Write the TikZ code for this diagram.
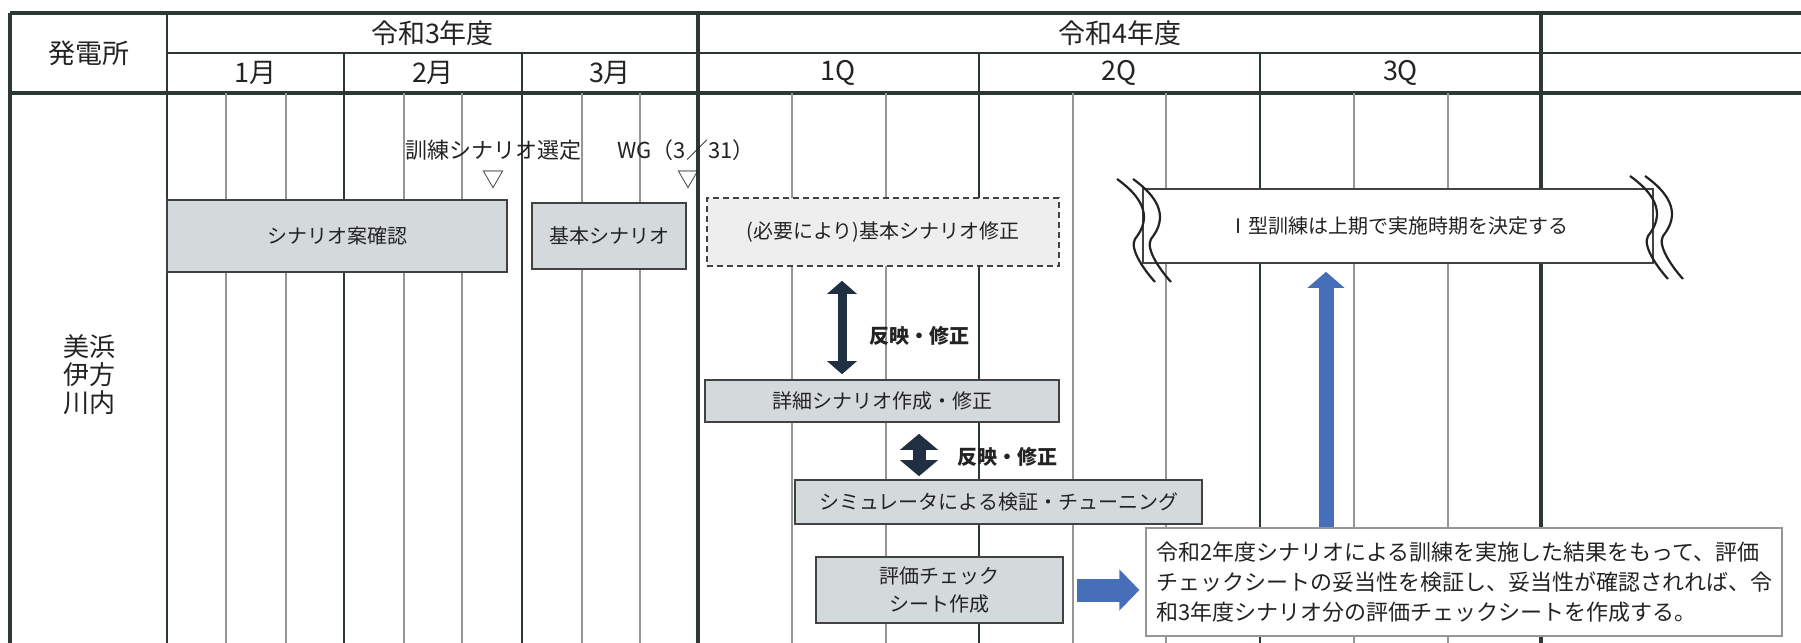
\documentclass[tikz,border=0pt]{standalone}
\usepackage{fontspec}
\setmainfont{Noto Sans CJK JP}
\usetikzlibrary{arrows.meta,positioning}

\definecolor{gridcol}{RGB}{44,56,52}
\definecolor{weekcol}{RGB}{150,150,150}
\definecolor{inkcol}{RGB}{35,35,35}
\definecolor{boxfill}{RGB}{212,217,220}
\definecolor{boxedge}{RGB}{66,66,66}
\definecolor{dashfill}{RGB}{238,238,238}
\definecolor{navyarr}{RGB}{33,47,66}
\definecolor{bluearr}{RGB}{70,110,185}

\tikzset{
  thickrule/.style={draw=gridcol, line width=1.6pt},
  rule/.style={draw=gridcol, line width=1.1pt},
  weekrule/.style={draw=weekcol, line width=0.6pt},
  hdr/.style={text=inkcol, font=\fontsize{13.5}{16}\selectfont},
  small/.style={text=inkcol, font=\fontsize{11}{13}\selectfont},
  taskbox/.style={draw=boxedge, fill=boxfill, line width=0.8pt, inner sep=0pt,
    align=center, text=inkcol, font=\fontsize{10}{14}\selectfont},
  optbox/.style={taskbox, fill=dashfill, dash pattern=on 3pt off 2pt},
  planbox/.style={draw=boxedge, fill=white, line width=0.8pt, inner sep=0pt,
    text=inkcol, font=\fontsize{10}{12}\selectfont},
  notebox/.style={draw=weekcol, fill=white, line width=0.6pt, inner sep=0pt,
    align=left, text=inkcol, font=\fontsize{11}{15}\selectfont},
  fblabel/.style={text=inkcol, font=\bfseries\fontsize{10}{12}\selectfont},
  brkline/.style={draw=inkcol, line width=1.1pt},
  feedback/.style={draw=navyarr, line width=4.5pt,
    arrows={Triangle[width=14.5pt,length=6.5pt]-Triangle[width=14.5pt,length=6.5pt]}},
  feedbackb/.style={draw=navyarr, line width=6.5pt,
    arrows={Triangle[width=18.5pt,length=8pt]-Triangle[width=18.5pt,length=8pt]}},
  blueup/.style={draw=bluearr, line width=7.5pt, arrows={-Triangle[width=18pt,length=8pt]}},
  blueright/.style={draw=bluearr, line width=11.5pt, arrows={-Triangle[width=20pt,length=10pt]}}
}

% wave break mark beside the plan box
\newcommand{\wavebrk}[1]{\draw[brkline, shift={#1}] (0,0) .. controls (35,25) and (30,45) .. (18,60) .. controls (12,70) and (28,92) .. (38,103);}

\begin{document}
\begin{tikzpicture}[x=0.5pt, y=-0.5pt]
  \useasboundingbox (0,0) rectangle (1801,643);

  % table
  \draw[thickrule] (10,13) -- (1801,13);
  \draw[rule] (167,53) -- (1801,53);
  \draw[thickrule] (10,93) -- (1801,93);
  \draw[thickrule] (10,13) -- (10,643);
  \draw[rule] (167,13) -- (167,643);
  \foreach \x in {344,522,979,1260}
    \draw[rule] (\x,53) -- (\x,643);
  \foreach \x in {698,1541}
    \draw[thickrule] (\x,13) -- (\x,643);
  \foreach \x in {226,286,404,462,582,640,792,886,1073,1166,1354,1448}
    \draw[weekrule] (\x,93) -- (\x,643);

  % header
  \node[hdr] (station) at (88.5,53) {発電所};
  \node[hdr] (fy3) at (432.5,33) {令和3年度};
  \node[hdr] (fy4) at (1119.5,33) {令和4年度};
  \node[hdr] (m1) at (255.5,73) {1月};
  \node[hdr] (m2) at (433,73) {2月};
  \node[hdr] (m3) at (610,73) {3月};
  \node[hdr] (q1) at (838.5,73) {1Q};
  \node[hdr] (q2) at (1119.5,73) {2Q};
  \node[hdr] (q3) at (1400.5,73) {3Q};

  \node[text=inkcol, font=\fontsize{13}{14}\selectfont, align=center] (plants) at (89,375) {美浜\\伊方\\川内};

  % milestones
  \node[small] (sel) at (493,150) {訓練シナリオ選定};
  \node[small] (wg) at (686,150) {WG（3／31）};
  \node[small] (mk1) at (493,180) {▽};
  \node[small] (mk2) at (688,180) {▽};

  % tasks
  \node[taskbox, minimum width=170pt, minimum height=36pt] (draftchk) at (337,236) {シナリオ案確認};
  \node[taskbox, minimum width=77pt, minimum height=33pt] (basic) at (609,236) {基本シナリオ};
  \node[optbox, minimum width=176pt, minimum height=34pt] (basicmod) at (883,232) {(必要により)基本シナリオ修正};
  \node[taskbox, minimum width=177pt, minimum height=21pt] (detail) at (882,401) {詳細シナリオ作成・修正};
  \node[taskbox, minimum width=203.5pt, minimum height=22pt] (sim) at (998.5,502) {シミュレータによる検証・チューニング};
  \node[taskbox, minimum width=123.5pt, minimum height=33pt] (evalsheet) at (939.5,590) {評価チェック\\シート作成};

  \node[planbox, minimum width=255pt, minimum height=37pt] (plan1) at (1398,226) {Ⅰ型訓練は上期で実施時期を決定する};
  \wavebrk{(1117,179)}
  \wavebrk{(1133,179)}
  \wavebrk{(1630,176)}
  \wavebrk{(1645,176)}

  \node[notebox, minimum width=318pt, minimum height=54pt] (note) at (1464,582)
    {令和2年度シナリオによる訓練を実施した結果をもって、評価\\
     チェックシートの妥当性を検証し、妥当性が確認されれば、令\\
     和3年度シナリオ分の評価チェックシートを作成する。};

  % arrows
  \coordinate (fbx1) at (842,0);
  \coordinate (fbx2) at (919,0);
  \coordinate (upx) at (1326,0);
  \draw[feedback, shorten <=7pt, shorten >=2.5pt] (basicmod.south -| fbx1) -- (detail.north -| fbx1);
  \draw[feedbackb, shorten <=5.5pt, shorten >=1.5pt] (detail.south -| fbx2) -- (sim.north -| fbx2);
  \node[fblabel, anchor=west] (fb1) at (862,336) {反映・修正};
  \node[fblabel, anchor=west] (fb2) at (950,457) {反映・修正};

  \draw[blueup, shorten >=4pt] (note.north -| upx) -- (plan1.south -| upx);
  \draw[blueright, shorten <=6.5pt, shorten >=3pt] (evalsheet.east) -- (evalsheet.east -| note.west);
\end{tikzpicture}
\end{document}
